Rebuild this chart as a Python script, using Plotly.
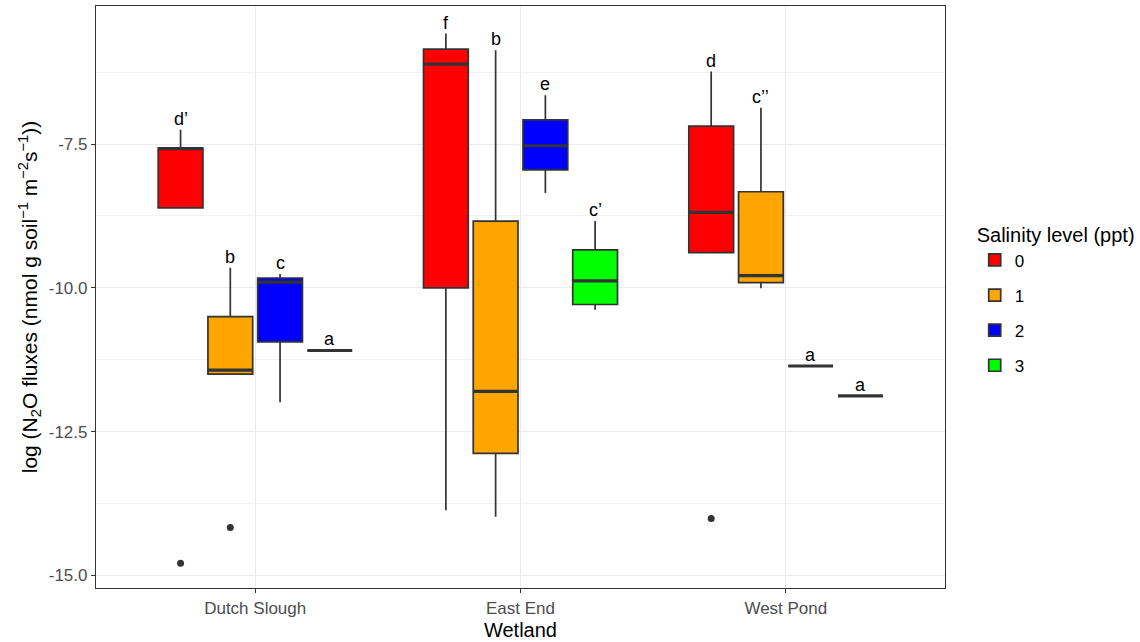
import plotly.graph_objects as go

wetlands = ["Dutch Slough", "East End", "West Pond"]
levels = ["0", "1", "2", "3"]
colors = ["#FF0000", "#FFA500", "#0000FF", "#00FF00"]

# per salinity level, values for [Dutch Slough, East End, West Pond]
q1 = {
    "0": [-8.61, -10.00, -9.39],
    "1": [-11.50, -12.88, -9.91],
    "2": [-10.94, -7.95, -11.36],
    "3": [-11.09, -10.29, -11.88],
}
median = {
    "0": [-7.58, -6.11, -8.69],
    "1": [-11.43, -11.80, -9.79],
    "2": [-9.90, -7.53, -11.36],
    "3": [-11.09, -9.88, -11.88],
}
q3 = {
    "0": [-7.57, -5.85, -7.19],
    "1": [-10.50, -8.84, -8.33],
    "2": [-9.83, -7.08, -11.36],
    "3": [-11.09, -9.34, -11.88],
}
lowerfence = {
    "0": [-8.61, -13.87, -9.39],
    "1": [-11.50, -13.98, -10.01],
    "2": [-11.99, -8.35, -11.36],
    "3": [-11.09, -10.38, -11.88],
}
upperfence = {
    "0": [-7.25, -5.58, -6.24],
    "1": [-9.65, -5.87, -6.87],
    "2": [-9.76, -6.65, -11.36],
    "3": [-11.09, -8.84, -11.88],
}
# outliers: (wetland index, level index, value)
outlier_wetland = [0, 0, 2]
outlier_level = [0, 1, 0]
outlier_value = [-14.79, -14.17, -14.01]

letters = {
    "0": ["d\u2019", "f", "d"],
    "1": ["b", "b", "c\u2019\u2019"],
    "2": ["c", "e", "a"],
    "3": ["a", "c\u2019", "a"],
}

FONT = "Liberation Sans, Arial, sans-serif"
BOXGAP = 0.25
GROUPGAP = 0.1
n = len(levels)
slot = (1 - BOXGAP) / n
half = slot * (1 - GROUPGAP) / 2


def offset(k):
    return (k - (n - 1) / 2) * slot


fig = go.Figure()
for k, lv in enumerate(levels):
    fig.add_trace(go.Box(
        x=wetlands,
        q1=q1[lv], median=median[lv], q3=q3[lv],
        lowerfence=lowerfence[lv], upperfence=upperfence[lv],
        name=lv, legendgroup=lv,
        fillcolor=colors[k],
        line=dict(color="#333333", width=1.7),
        whiskerwidth=0,
        boxpoints=False,
        hoverinfo="skip",
    ))

shapes = []
annotations = []
for k, lv in enumerate(levels):
    for i in range(len(wetlands)):
        xc = i + offset(k)
        shapes.append(dict(type="line", xref="x", yref="y",
                           x0=xc - half, x1=xc + half,
                           y0=median[lv][i], y1=median[lv][i],
                           line=dict(color="#333333", width=3.2)))
        annotations.append(dict(x=xc, y=upperfence[lv][i], xref="x", yref="y",
                                text=letters[lv][i], showarrow=False,
                                yanchor="bottom", yshift=-1,
                                font=dict(family=FONT, size=18, color="black")))

# outliers drawn on an overlaid numeric axis aligned with the category axis
fig.add_trace(go.Scatter(
    x=[outlier_wetland[j] + offset(outlier_level[j]) for j in range(len(outlier_value))],
    y=outlier_value, mode="markers", xaxis="x2",
    marker=dict(color="#333333", size=7), showlegend=False, hoverinfo="skip",
))

fig.update_layout(
    width=1140, height=642,
    margin=dict(l=96, r=195, t=6, b=54, autoexpand=False),
    paper_bgcolor="white", plot_bgcolor="white",
    boxmode="group", boxgap=BOXGAP, boxgroupgap=GROUPGAP,
    font=dict(family=FONT),
    shapes=shapes, annotations=annotations,
    xaxis=dict(
        type="category", range=[-0.6, 2.6], automargin=False,
        showgrid=True, gridcolor="#EBEBEB", gridwidth=1,
        ticks="outside", ticklen=4, tickcolor="#333333",
        tickfont=dict(family=FONT, size=17, color="#4D4D4D"),
        title=dict(text="Wetland", font=dict(family=FONT, size=20, color="black"), standoff=6),
        showline=True, linecolor="#333333", linewidth=1.2, mirror=True,
        zeroline=False,
    ),
    xaxis2=dict(range=[-0.6, 2.6], overlaying="x", anchor="y", visible=False),
    yaxis=dict(
        range=[-15.22, -5.10], automargin=False,
        tickvals=[-15.0, -12.5, -10.0, -7.5],
        ticktext=["-15.0", "-12.5", "-10.0", "-7.5"],
        showgrid=True, gridcolor="#EBEBEB", gridwidth=1,
        minor=dict(tickvals=[-13.75, -11.25, -8.75, -6.25], showgrid=True,
                   gridcolor="#F2F2F2", gridwidth=0.8, ticks=""),
        ticks="outside", ticklen=4, tickcolor="#333333",
        tickfont=dict(family=FONT, size=17, color="#4D4D4D"),
        title=dict(text="log (N<sub>2</sub>O fluxes (nmol g soil<sup>\u22121</sup> m<sup>\u22122</sup>s<sup>\u22121</sup>))",
                   font=dict(family=FONT, size=21, color="black"), standoff=5),
        showline=True, linecolor="#333333", linewidth=1.2, mirror=True,
        zeroline=False,
    ),
    legend=dict(
        title=dict(text="Salinity level (ppt)", font=dict(family=FONT, size=20, color="black")),
        font=dict(family=FONT, size=17, color="black"),
        x=1.035, xanchor="left", y=0.495, yanchor="middle",
        tracegroupgap=10, bgcolor="rgba(0,0,0,0)",
    ),
)

fig.write_html("out.html")
